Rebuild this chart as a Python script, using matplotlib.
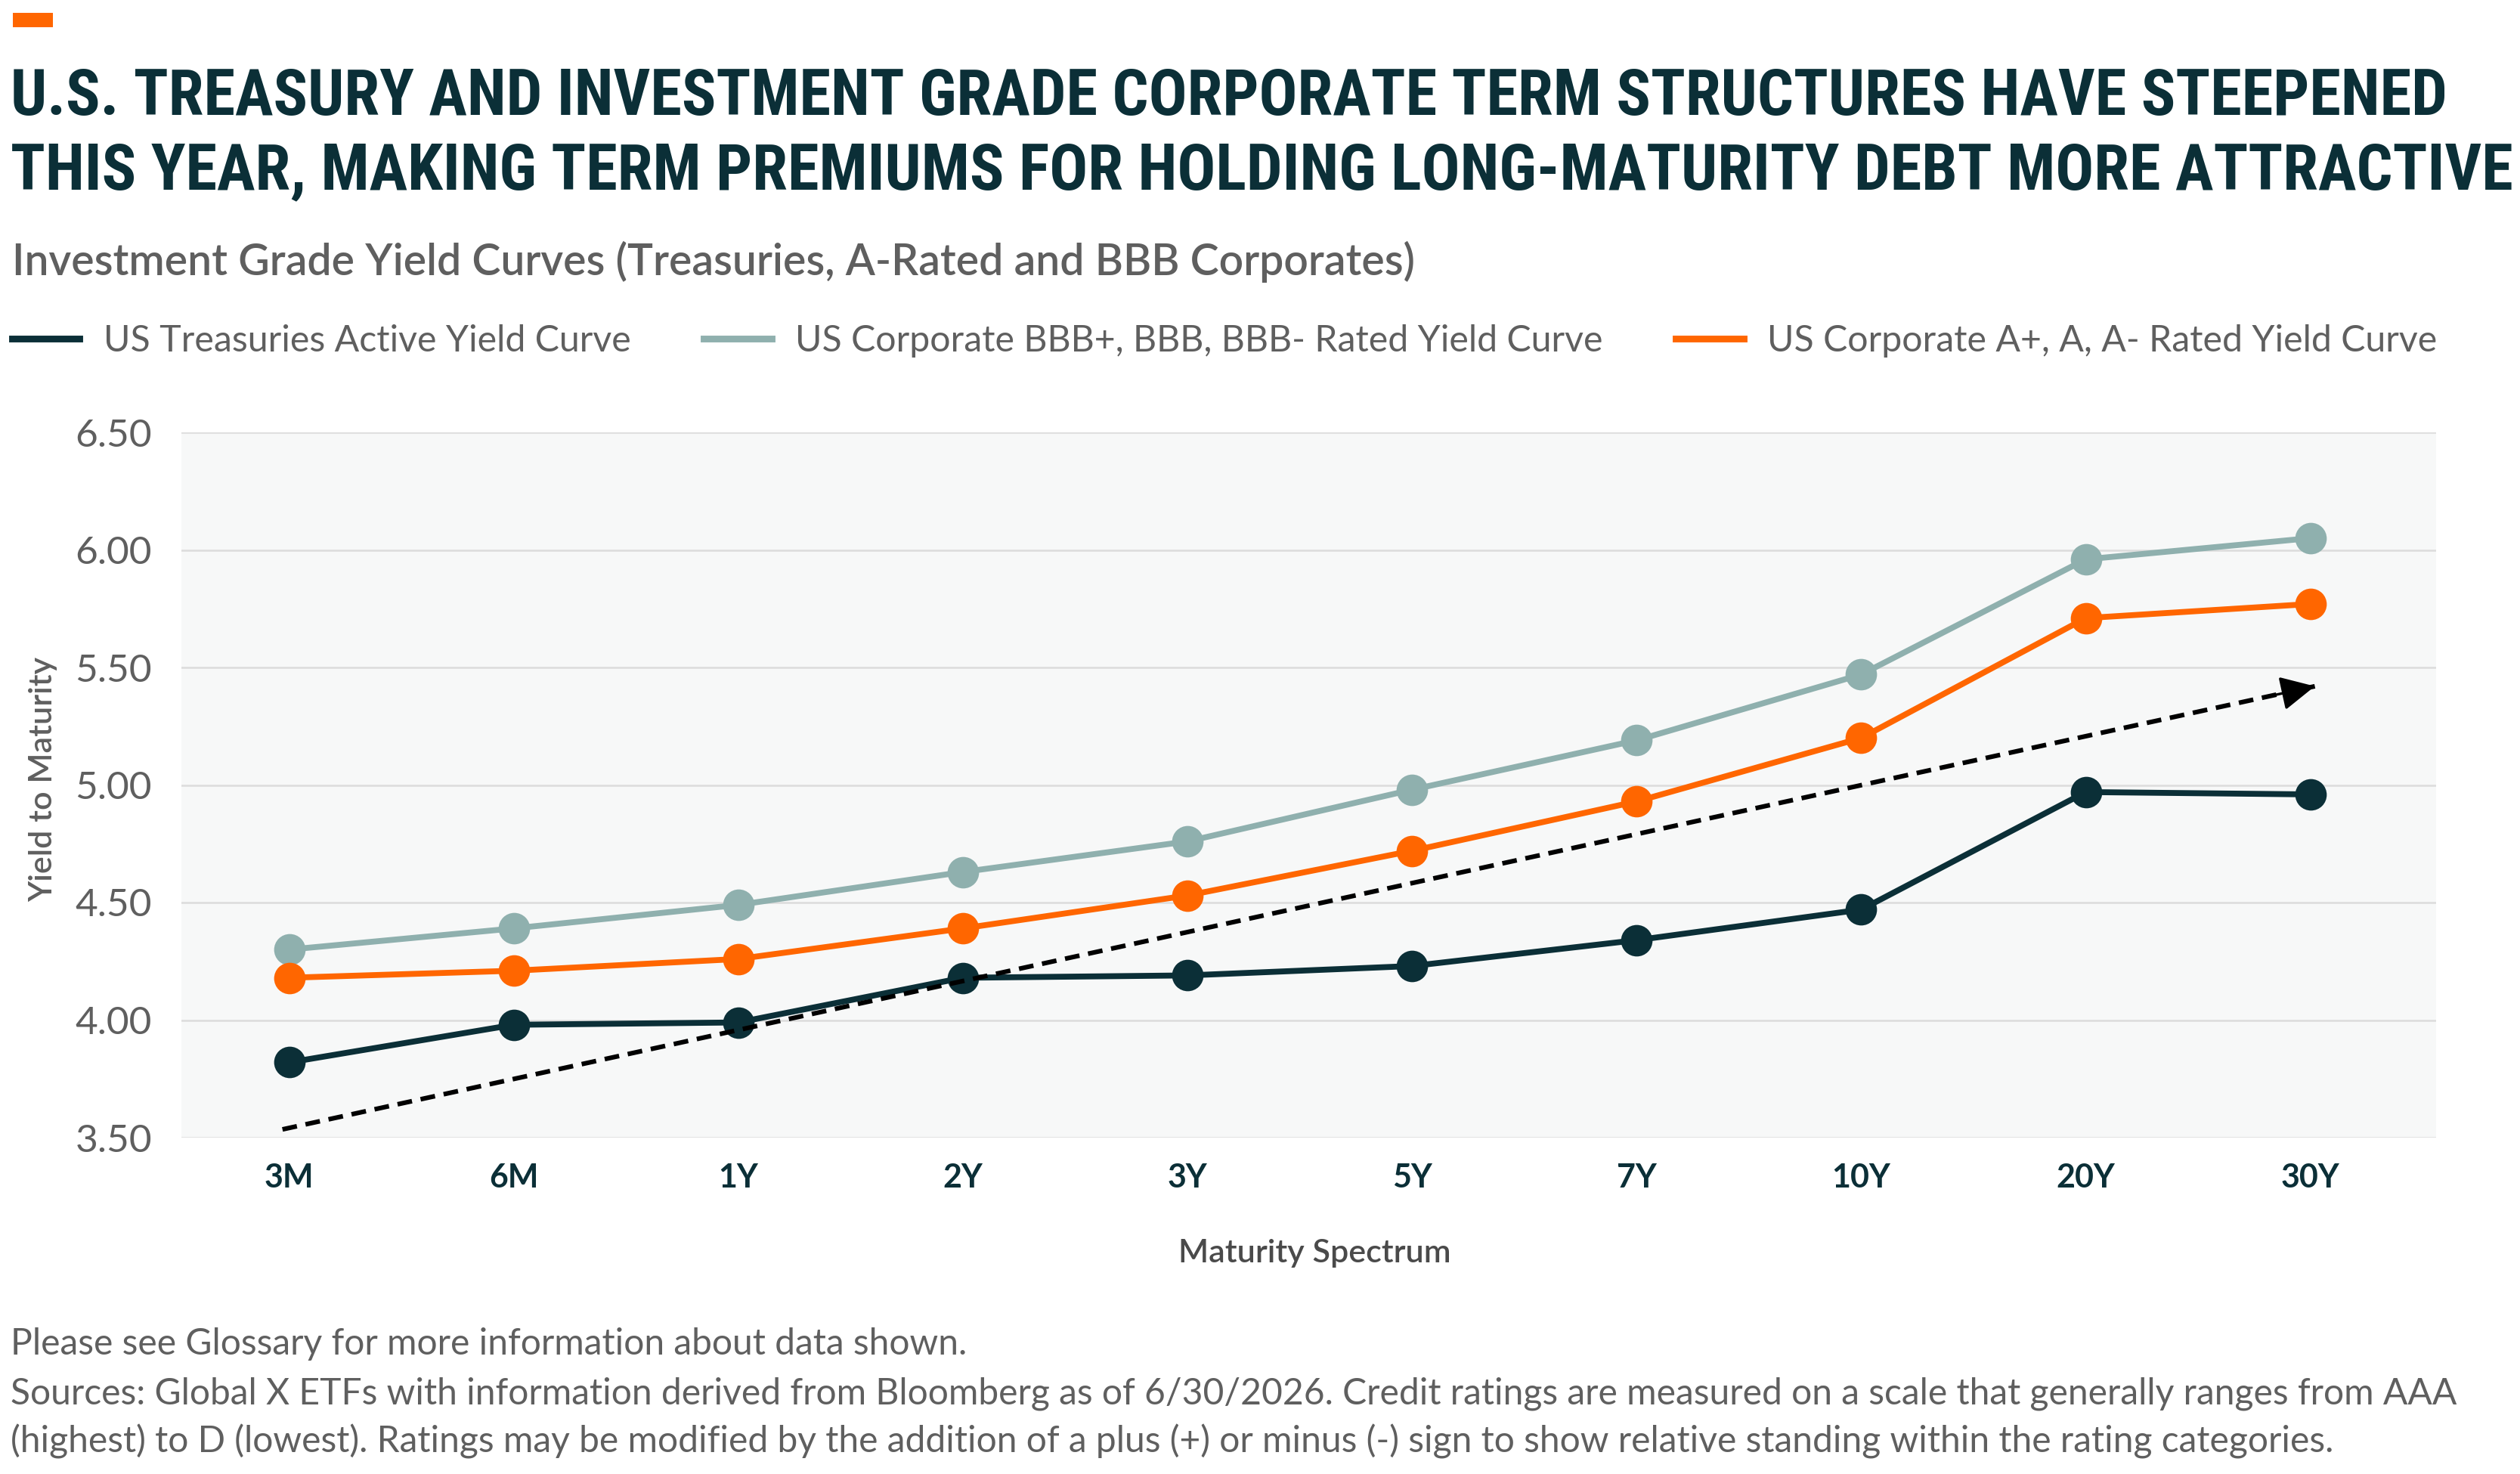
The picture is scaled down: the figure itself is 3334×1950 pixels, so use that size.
import matplotlib
matplotlib.use("Agg")
import matplotlib.pyplot as plt
from matplotlib import font_manager as fm
from matplotlib.lines import Line2D
from matplotlib.patches import Rectangle

# data
maturities = ["3M", "6M", "1Y", "2Y", "3Y", "5Y", "7Y", "10Y", "20Y", "30Y"]
treasury = [3.82, 3.98, 3.99, 4.18, 4.19, 4.23, 4.34, 4.47, 4.97, 4.96]
bbb_rated = [4.30, 4.39, 4.49, 4.63, 4.76, 4.98, 5.19, 5.47, 5.96, 6.05]
a_rated = [4.18, 4.21, 4.26, 4.39, 4.53, 4.72, 4.93, 5.20, 5.71, 5.77]
series_labels = [
    "US Treasuries Active Yield Curve",
    "US Corporate BBB+, BBB, BBB- Rated Yield Curve",
    "US Corporate A+, A, A- Rated Yield Curve",
]
yticks = [3.50, 4.00, 4.50, 5.00, 5.50, 6.00, 6.50]
trend_start = (-0.03, 3.535)
trend_end = (9.02, 5.42)

DARK = "#0b2f37"
TEAL = "#8fb0ae"
ORANGE = "#ff6600"
GRAY = "#5f5f5f"
BODY = "Lato"

W, H = 3334, 1950
DPI = 200


def condensed_title_font():
    """Pick a bold condensed/narrow face if one is installed."""
    prefs = ["Roboto Condensed", "Liberation Sans Narrow", "Open Sans Condensed",
             "Noto Sans", "DejaVu Sans", "Roboto", "Open Sans"]
    best = None
    for f in fm.fontManager.ttflist:
        narrow = ("Condensed" in f.name or "Narrow" in f.name
                  or str(f.stretch) in ("condensed", "semi-condensed", "extra-condensed")
                  or "Condensed" in f.fname or "Narrow" in f.fname)
        if not narrow or "Italic" in f.fname or f.style != "normal":
            continue
        w = f.weight if isinstance(f.weight, int) else fm.weight_dict.get(f.weight, 400)
        if w < 600 or w > 700:
            continue
        rank = next((i for i, p in enumerate(prefs) if f.name.startswith(p)), len(prefs))
        key = (rank, abs(w - 650))
        if best is None or key < best[0]:
            best = (key, f.fname)
    if best:
        return fm.FontProperties(fname=best[1], weight="bold")
    return fm.FontProperties(family="DejaVu Sans", weight="bold")


fig = plt.figure(figsize=(W / DPI, H / DPI), dpi=DPI, facecolor="white")


def fx(px):
    return px / W


def fy(py):
    return 1 - py / H


# orange tag in the corner
fig.patches.append(Rectangle((fx(17), fy(36)), fx(53), 19 / H, transform=fig.transFigure,
                             facecolor=ORANGE, edgecolor="none"))

title_fp = condensed_title_font()
title_fp.set_size(31)
t1 = fig.text(fx(14), fy(152), "U.S. TREASURY AND INVESTMENT GRADE CORPORATE TERM STRUCTURES HAVE STEEPENED",
              fontproperties=title_fp, color=DARK, va="baseline")
t2 = fig.text(fx(14), fy(250), "THIS YEAR, MAKING TERM PREMIUMS FOR HOLDING LONG-MATURITY DEBT MORE ATTRACTIVE",
              fontproperties=title_fp, color=DARK, va="baseline")
# size the title so the second line spans the width, as in the original
renderer = fig.canvas.get_renderer()
width = t2.get_window_extent(renderer).width
size = min(31 * (3328 - 14) / width, 33)
for t in (t1, t2):
    t.set_fontsize(size)

fig.text(fx(16), fy(364), "Investment Grade Yield Curves (Treasuries, A-Rated and BBB Corporates)",
         family=BODY, fontweight="semibold", fontsize=20.5, color=GRAY, va="baseline")

ax = fig.add_axes([fx(240), fy(1505), fx(3223 - 240), (1505 - 572) / H])
ax.set_facecolor("#f7f8f8")

x = list(range(len(maturities)))
line_kw = dict(linewidth=2.8, marker="o", markersize=14, solid_capstyle="round", zorder=3)
ax.plot(x, bbb_rated, color=TEAL, **line_kw)
ax.plot(x, a_rated, color=ORANGE, **line_kw)
ax.plot(x, treasury, color=DARK, **line_kw)

# dashed trend arrow
ax.plot([trend_start[0], trend_end[0]], [trend_start[1], trend_end[1]], color="black",
        linestyle=(0, (3.2, 1.9)), linewidth=2.2, zorder=4)
dx = trend_end[0] - trend_start[0]
dy = trend_end[1] - trend_start[1]
ax.annotate("", xy=trend_end, xytext=(trend_end[0] - 0.02 * dx, trend_end[1] - 0.02 * dy),
            arrowprops=dict(arrowstyle="-|>,head_length=1.4,head_width=0.7", color="black",
                            linewidth=1.2, shrinkA=0, shrinkB=0), zorder=5)

ax.set_xlim(-0.48, 9.56)
ax.set_ylim(3.5, 6.5)
ax.set_yticks(yticks)
ax.set_yticklabels([f"{v:.2f}" for v in yticks])
ax.set_xticks(x)
ax.set_xticklabels(maturities)
ax.grid(axis="y", color="#dcdcdc", linewidth=0.9)
ax.set_axisbelow(True)
for s in ax.spines.values():
    s.set_visible(False)
ax.tick_params(axis="y", length=0, pad=14, labelsize=18.5, labelcolor=GRAY)
ax.tick_params(axis="x", length=0, pad=12, labelsize=15.5, labelcolor=DARK)
for t in ax.get_yticklabels():
    t.set_family(BODY)
for t in ax.get_xticklabels():
    t.set_family(BODY)
    t.set_fontweight("bold")

fig.text(fx(57), fy(1031), "Yield to Maturity", rotation=90, ha="center", va="center",
         family=BODY, fontweight="semibold", fontsize=15.5, color=GRAY)
fig.text(fx(1739), fy(1658), "Maturity Spectrum", ha="center", va="center",
         family=BODY, fontweight="semibold", fontsize=15.5, color="#4a4a4a")

handles = [Line2D([], [], color=c, linewidth=3.2) for c in (DARK, TEAL, ORANGE)]
fig.legend(handles, series_labels, loc="center left", bbox_to_anchor=(fx(16), fy(451)), ncol=3,
           frameon=False, prop=dict(family=BODY, size=17.4), labelcolor=GRAY, borderpad=0,
           handlelength=1.85, handletextpad=0.65, columnspacing=2.0, borderaxespad=0)

foot_kw = dict(family=BODY, fontsize=17.3, color=GRAY, va="baseline")
fig.text(fx(14), fy(1792), "Please see Glossary for more information about data shown.", **foot_kw)
fig.text(fx(14), fy(1858), "Sources: Global X ETFs with information derived from Bloomberg as of 6/30/2026. "
         "Credit ratings are measured on a scale that generally ranges from AAA", **foot_kw)
fig.text(fx(14), fy(1921), "(highest) to D (lowest). Ratings may be modified by the addition of a plus (+) "
         "or minus (-) sign to show relative standing within the rating categories.", **foot_kw)

fig.savefig("out.png", dpi=DPI, facecolor="white")
